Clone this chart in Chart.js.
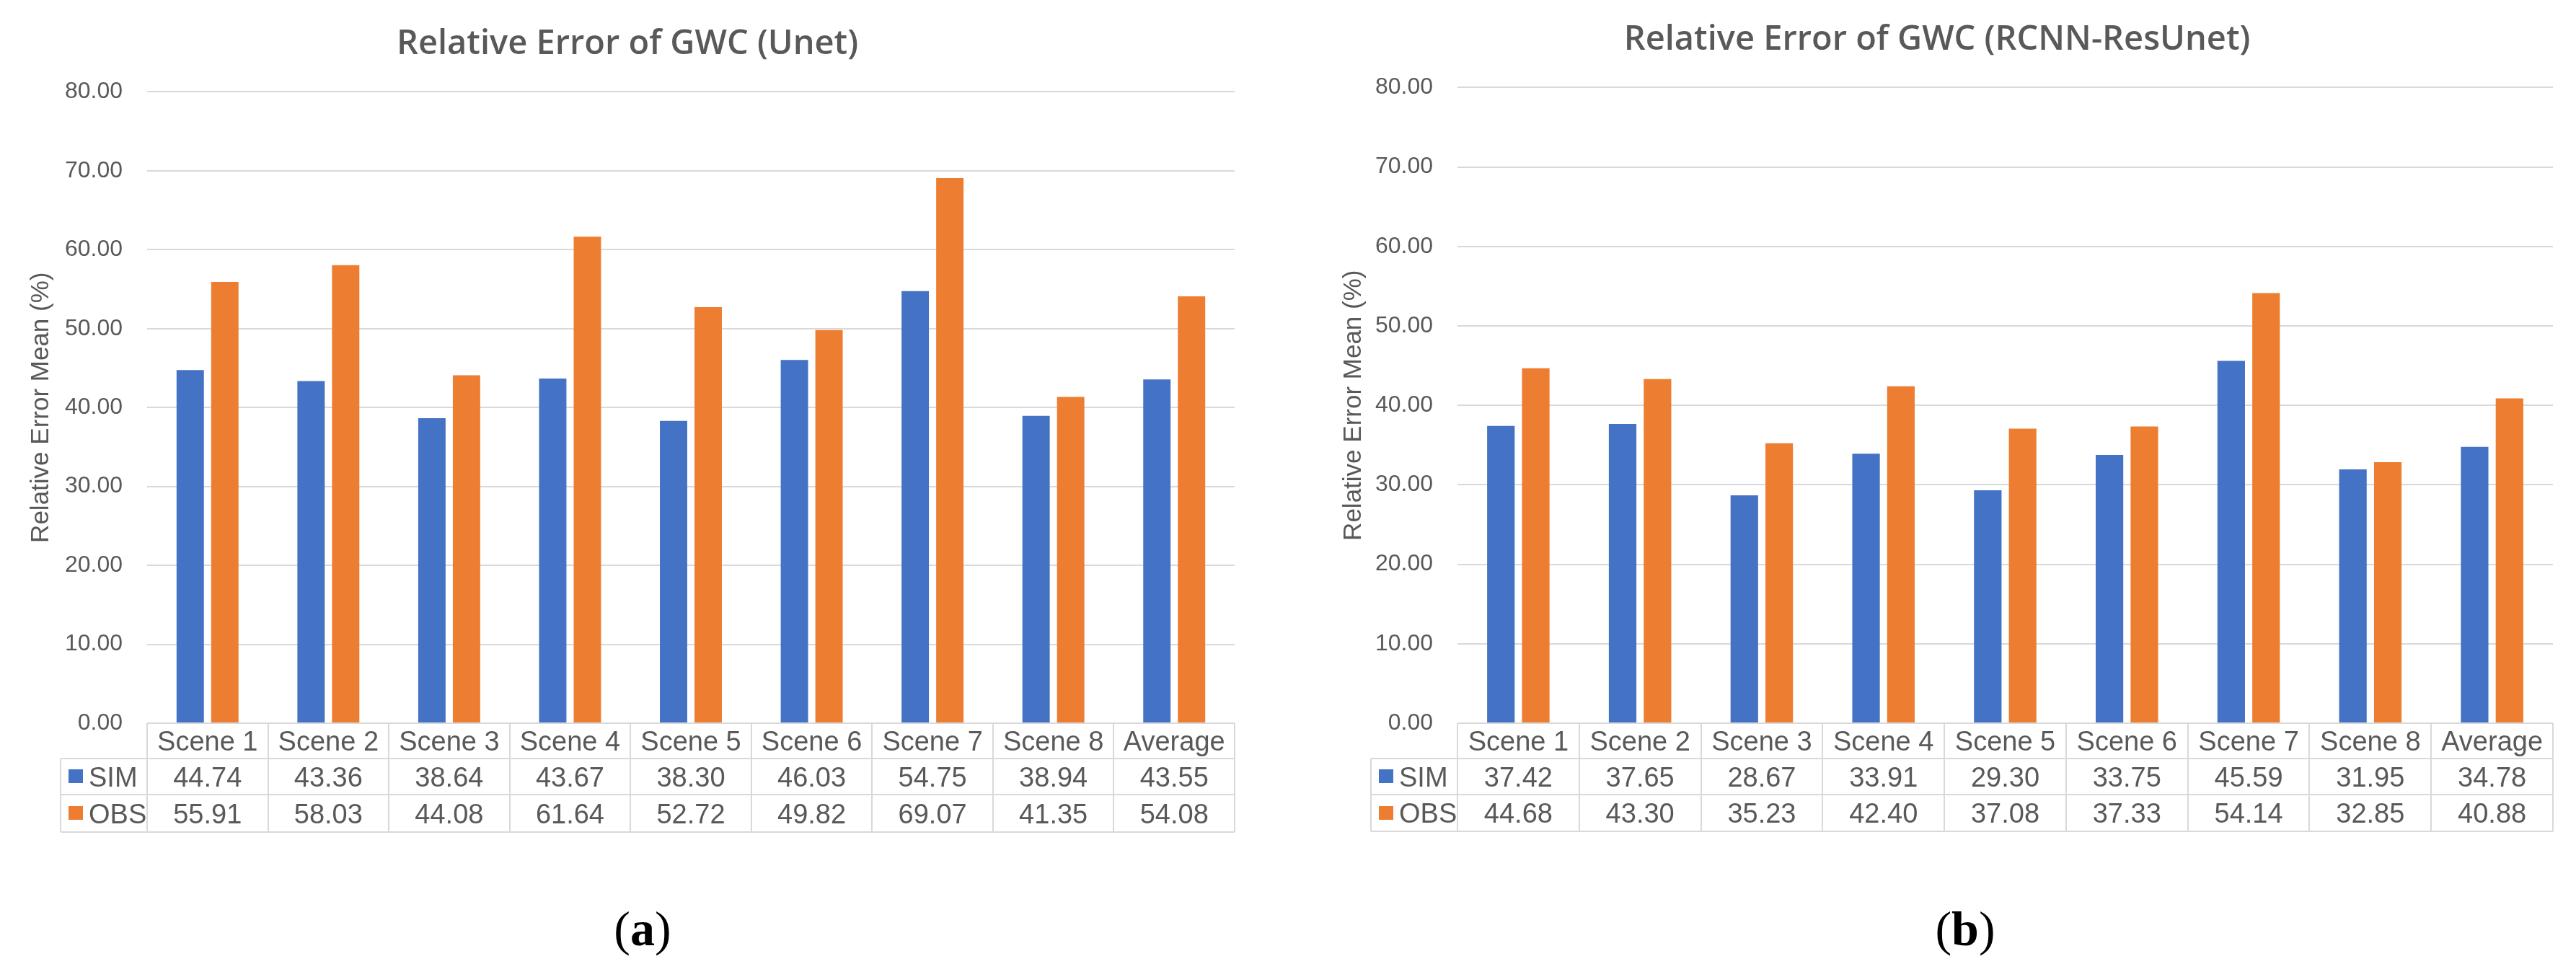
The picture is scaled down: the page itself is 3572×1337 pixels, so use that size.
<!DOCTYPE html>
<html>
<head>
<meta charset="utf-8">
<title>Relative Error of GWC</title>
<script src="https://cdn.jsdelivr.net/npm/chart.js@4.4.1/dist/chart.umd.min.js"></script>
<style>
  html, body { margin: 0; padding: 0; background: #fff; }
  #wrap { position: relative; width: 3572px; height: 1337px; overflow: hidden; }
  canvas { position: absolute; top: 0; }
  #chartA { left: 0; }
  #chartB { left: 1786px; }
  .tag {
    position: absolute; top: 1254px; width: 200px; text-align: center;
    font-family: "Liberation Serif", "Times New Roman", serif;
    font-size: 68px; line-height: 68px; color: #000;
  }
</style>
</head>
<body>
<div id="wrap">
  <canvas id="chartA" width="1786" height="1337"></canvas>
  <canvas id="chartB" width="1786" height="1337"></canvas>
  <div class="tag" style="left:791px">(<b>a</b>)</div>
  <div class="tag" style="left:2625px">(<b>b</b>)</div>
</div>
<script>
const scenes = ["Scene 1", "Scene 2", "Scene 3", "Scene 4", "Scene 5", "Scene 6", "Scene 7", "Scene 8", "Average"];
const seriesNames = ["SIM", "OBS"];

const unetSim = [44.74, 43.36, 38.64, 43.67, 38.30, 46.03, 54.75, 38.94, 43.55];
const unetObs = [55.91, 58.03, 44.08, 61.64, 52.72, 49.82, 69.07, 41.35, 54.08];

const rcnnSim = [37.42, 37.65, 28.67, 33.91, 29.30, 33.75, 45.59, 31.95, 34.78];
const rcnnObs = [44.68, 43.30, 35.23, 42.40, 37.08, 37.33, 54.14, 32.85, 40.88];

const yMin = 0;
const yMax = 80;
const yStep = 10;

const TEXT = "#595959";
const GRID = "#D9D9D9";
const BLUE = "#4472C4";
const ORANGE = "#ED7D31";

Chart.defaults.font.family = '"Liberation Sans", Arial, sans-serif';
Chart.defaults.color = TEXT;

// data table under the plot, Excel style
const dataTable = {
  id: "dataTable",
  afterDraw(chart, args, opts) {
    const { ctx, chartArea } = chart;
    const x = chart.scales.x;
    const n = chart.data.labels.length;
    const colW = (chartArea.right - chartArea.left) / n;
    const edge = i => Math.round(i < n ? x.getPixelForValue(i) - colW / 2 : x.getPixelForValue(n - 1) + colW / 2);

    const y0 = Math.round(chartArea.bottom);
    const ys = [y0];
    opts.rows.forEach(h => ys.push(ys[ys.length - 1] + h));
    const legL = Math.round(chartArea.left - opts.legendWidth);
    const right = edge(n);

    ctx.save();
    ctx.strokeStyle = GRID;
    ctx.lineWidth = 2;
    ctx.beginPath();
    ctx.moveTo(edge(0), ys[0]); ctx.lineTo(right, ys[0]);
    for (let r = 1; r < ys.length; r++) {
      ctx.moveTo(legL, ys[r]); ctx.lineTo(right, ys[r]);
    }
    ctx.moveTo(legL, ys[1]); ctx.lineTo(legL, ys[ys.length - 1]);
    for (let i = 0; i <= n; i++) {
      ctx.moveTo(edge(i), ys[0]); ctx.lineTo(edge(i), ys[ys.length - 1]);
    }
    ctx.stroke();

    const size = opts.fontSize;
    const cap = size * 0.716;
    ctx.font = size + 'px "Liberation Sans", Arial, sans-serif';
    ctx.fillStyle = TEXT;
    ctx.textBaseline = "alphabetic";

    // header row
    ctx.textAlign = "center";
    const hMid = (ys[0] + ys[1]) / 2;
    chart.data.labels.forEach((lab, i) => {
      ctx.fillText(lab, x.getPixelForValue(i), hMid + cap / 2);
    });

    // value rows
    chart.data.datasets.forEach((ds, d) => {
      const mid = (ys[d + 1] + ys[d + 2]) / 2;
      ctx.fillStyle = ds.backgroundColor;
      ctx.fillRect(legL + 11, Math.round(mid - 10), 20, 19);
      ctx.fillStyle = TEXT;
      ctx.textAlign = "left";
      ctx.fillText(ds.label, legL + 39, mid + cap / 2);
      ctx.textAlign = "center";
      ds.data.forEach((v, i) => {
        ctx.fillText(v.toFixed(2), x.getPixelForValue(i), mid + cap / 2);
      });
    });
    ctx.restore();
  }
};

function makeChart(id, title, sim, obs, lay) {
  return new Chart(document.getElementById(id), {
    type: "bar",
    data: {
      labels: scenes,
      datasets: [
        { label: seriesNames[0], data: sim, backgroundColor: BLUE },
        { label: seriesNames[1], data: obs, backgroundColor: ORANGE }
      ]
    },
    options: {
      responsive: false,
      animation: false,
      devicePixelRatio: 1,
      categoryPercentage: 0.573,
      barPercentage: 0.79,
      layout: { padding: { left: lay.padL, right: lay.padR, top: 0, bottom: lay.padB } },
      plugins: {
        legend: { display: false },
        tooltip: { enabled: false },
        title: {
          display: true,
          text: title,
          color: TEXT,
          font: { family: '"Open Sans", "Liberation Sans", sans-serif', size: 47, weight: "600" },
          padding: { top: lay.titleTop, bottom: 38 }
        },
        dataTable: { rows: lay.rows, legendWidth: 120, fontSize: 38 }
      },
      scales: {
        x: {
          ticks: { display: false },
          grid: { display: false },
          border: { display: false },
          afterFit: s => { s.height = lay.rows.reduce((a, b) => a + b, 0); }
        },
        y: {
          min: yMin,
          max: yMax,
          ticks: {
            stepSize: yStep,
            padding: 34,
            color: TEXT,
            font: { size: 32 },
            callback: v => Number(v).toFixed(2)
          },
          grid: { color: GRID, lineWidth: 2, drawTicks: false },
          border: { display: false },
          title: {
            display: true,
            text: "Relative Error Mean (%)",
            color: TEXT,
            font: { size: 35 },
            padding: { top: lay.yTitlePad, bottom: 0 }
          },
          afterFit: s => { s.width = lay.yWidth; }
        }
      }
    },
    plugins: [dataTable]
  });
}

makeChart("chartA", "Relative Error of GWC (Unet)", unetSim, unetObs,
  { padL: 28, padR: 74, padB: 183, yWidth: 176, titleTop: 33, yTitlePad: 8, rows: [49, 50, 52] });

makeChart("chartB", "Relative Error of GWC (RCNN-ResUnet)", rcnnSim, rcnnObs,
  { padL: 46, padR: 32, padB: 184, yWidth: 189, titleTop: 27, yTitlePad: 24, rows: [49, 50, 51] });
</script>
</body>
</html>
